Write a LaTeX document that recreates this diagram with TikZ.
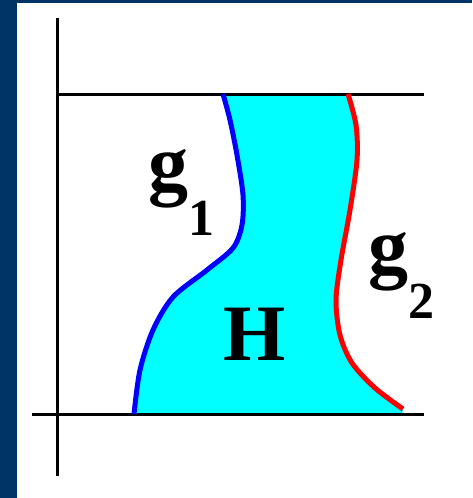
\documentclass[tikz,border=0pt]{standalone}
\usepackage{fontspec}
\setmainfont{Liberation Serif}
\usepackage{xcolor}
\definecolor{framecol}{RGB}{0,51,102}
\definecolor{regioncol}{RGB}{0,255,255}
\newcommand{\lowsub}[1]{\raisebox{-45pt}{\fontsize{52}{60}\selectfont #1}}

\begin{document}
\begin{tikzpicture}[x=1pt, y=-1pt,
  axis/.style={line width=3pt},
  curve/.style={line width=5pt, line join=round},
  lbl/.style={inner sep=0pt, anchor=base west, font=\fontsize{80}{90}\selectfont\bfseries}]
  \useasboundingbox (0,0) rectangle (472,498);
  % Frame
  \fill[framecol] (0,0) rectangle (17,498);
  \fill[framecol] (0,0) rectangle (472,3);
  % Region H
  \fill[regioncol] plot[smooth] coordinates {(134,414) (140,370) (153,330) (173,297) (207,270) (233,248) (242,225) (243,195) (237,155) (230,120) (223,94)}
    -- plot[smooth] coordinates {(348,94) (356,125) (357,160) (350,210) (341,260) (336,300) (340,335) (352,363) (375,388) (403,409)}
    -- (402,414) -- cycle;
  % Axes
  \draw[axis] (57.5,18) -- (57.5,476);
  \draw[axis] (57.5,94.5) -- (424,94.5);
  \draw[axis] (32,414) -- (424,414);
  % g1 (blue)
  \draw[blue, curve] plot[smooth] coordinates {(134,414) (140,370) (153,330) (173,297) (207,270) (233,248) (242,225) (243,195) (237,155) (230,120) (223,94)};
  % g2 (red)
  \draw[red, curve] plot[smooth] coordinates {(348,94) (356,125) (357,160) (350,210) (341,260) (336,300) (340,335) (352,363) (375,388) (403,409)};
  % Labels
  \node[lbl] (g1) at (148,190) {g\lowsub{1}};
  \node[lbl] (g2) at (368,273) {g\lowsub{2}};
  \node[lbl] (H) at (223,360) {H};
\end{tikzpicture}
\end{document}
